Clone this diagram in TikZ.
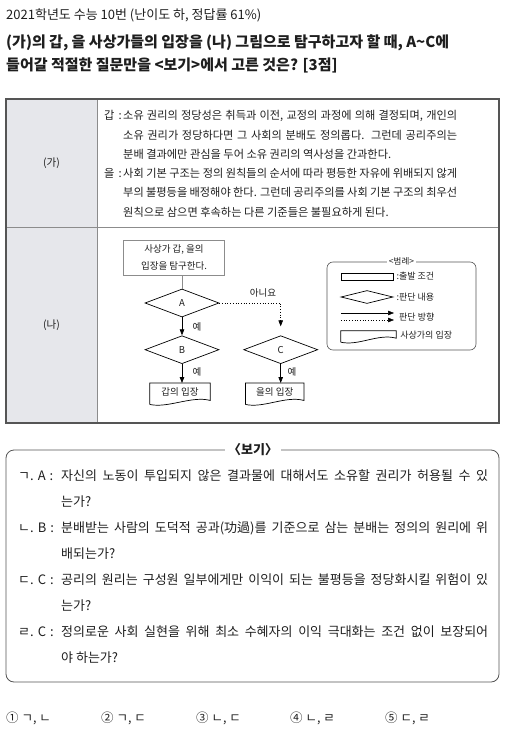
\documentclass[tikz,border=0pt]{standalone}
\usepackage{fontspec}
\setmainfont{Noto Sans CJK KR}
\usetikzlibrary{positioning,shapes.geometric,arrows.meta}
\definecolor{ink}{HTML}{1E1E1E}
\definecolor{cellgray}{HTML}{E6E7EB}
\definecolor{frame}{HTML}{555555}
\definecolor{rule}{HTML}{8C8C8C}
\newcommand{\tpre}[1]{\makebox[19pt][l]{#1}}
\newcommand{\bpre}[1]{\makebox[43pt][l]{#1}}
\newcommand{\gap}{\hspace{4pt}}

\begin{document}
\begin{tikzpicture}[x=1pt, y=-1pt, every node/.style={text=ink, inner sep=0pt},
		t/.style={anchor=base west},
		body/.style={t, font=\fontsize{11.2}{12}\selectfont},
		bogi/.style={t, font=\fontsize{13}{14}\selectfont},
		fc/.style={font=\fontsize{9.5}{17}\selectfont},
		lg/.style={font=\fontsize{9}{11}\selectfont, anchor=west},
		sbox/.style={draw=rule, line width=0.7pt, minimum width=101pt, minimum height=35pt, align=center, fc},
		dia/.style={diamond, draw, line width=0.7pt, minimum width=74pt, minimum height=28pt, fc},
		doc/.style={minimum width=60pt, minimum height=18pt, fc},
		yesarrow/.style={-{Triangle[length=6pt,width=4.5pt]}, line width=0.7pt},
		noarrow/.style={yesarrow, dotted}]
	\useasboundingbox (0,0) rectangle (507,733);

	% question
	\node[t, font=\fontsize{13}{15}\selectfont] (hdr) at (6,19.5) {2021학년도 수능 10번 (난이도 하, 정답률 61\%)};
	\node[t, font=\fontsize{15}{17}\selectfont\bfseries] (q1) at (6,48) {(가)의 갑, 을 사상가들의 입장을 (나) 그림으로 탐구하고자 할 때, A\textasciitilde C에};
	\node[t, font=\fontsize{15}{17}\selectfont\bfseries] (q2) at (6,71) {들어갈 적절한 질문만을 <보기>에서 고른 것은? [3점]};

	% table
	\fill[cellgray] (6,99) rectangle (97,423);
	\draw[rule, line width=0.6pt] (97,99) -- (97,423);
	\draw[rule, line width=0.6pt] (6,227) -- (499,227);
	\draw[frame, line width=1.6pt] (6,99) rectangle (499,423);
	\node[font=\fontsize{10.5}{12}\selectfont] (ga) at (51.5,163) {(가)};
	\node[font=\fontsize{10.5}{12}\selectfont] (na) at (51.5,325) {(나)};

	\node[body] (g1) at (104,120) {\tpre{갑\gap:}\makebox[334pt][s]{소유 권리의 정당성은 취득과 이전, 교정의 과정에 의해 결정되며, 개인의}};
	\node[body] (g2) at (104,139.2) {\tpre{}\makebox[334pt][s]{소유 권리가 정당하다면 그 사회의 분배도 정의롭다. 그런데 공리주의는}};
	\node[body] (g3) at (104,158.4) {\tpre{}분배 결과에만 관심을 두어 소유 권리의 역사성을 간과한다.};
	\node[body] (e1) at (104,177.6) {\tpre{을\gap:}\makebox[334pt][s]{사회 기본 구조는 정의 원칙들의 순서에 따라 평등한 자유에 위배되지 않게}};
	\node[body] (e2) at (104,196.8) {\tpre{}\makebox[334pt][s]{부의 불평등을 배정해야 한다. 그런데 공리주의를 사회 기본 구조의 최우선}};
	\node[body] (e3) at (104,216) {\tpre{}원칙으로 삼으면 후속하는 다른 기준들은 불필요하게 된다.};

	% flow chart
	\node[sbox] (start) at (174,257.5) {사상가 갑, 을의\\입장을 탐구한다.};
	\node[dia] (A) at (182,303) {A};
	\node[dia, below=18pt of A] (B) {B};
	\node[dia, right=24pt of B] (C) {C};
	\node[doc, below=19pt of B, xshift=-2pt] (gapdoc) {갑의 입장};
	\node[doc, below=19pt of C, xshift=-6pt, minimum width=58pt] (euldoc) {을의 입장};

	\draw[rule, line width=0.7pt] (A) -- (A |- start.south);
	\draw[yesarrow] (A) -- (B);
	\draw[yesarrow] (B) -- (B |- gapdoc.north);
	\draw[yesarrow] (C) -- (C |- euldoc.north);
	\draw[noarrow, shorten >=9pt] (A) -| (C);
	\node[fc] (yA) at (197,327) {예};
	\node[fc] (yB) at (197,372) {예};
	\node[fc] (yC) at (292,372) {예};
	\node[fc] (nA) at (263,293) {아니요};

	% legend
	\node[draw=frame, line width=0.6pt, rounded corners=6pt, minimum width=149pt, minimum height=88pt] (legend) at (401.5,306) {};
	\node[fill=white, inner xsep=2pt, font=\fontsize{8.5}{10}\selectfont] (legtitle) at (legend.north) {<범례>};
	\node[draw, line width=0.7pt, minimum width=52pt, minimum height=7pt] (lrect) at (367,276.5) {};
	\node[lg, right=3pt of lrect] (lrectlab) {:출발 조건};
	\node[diamond, draw, line width=0.7pt, aspect=4, minimum width=52pt, minimum height=13pt] (ldia) at (367,297) {};
	\node[lg, right=3pt of ldia] (ldialab) {:판단 내용};
	\coordinate (ls1) at (341,313);
	\coordinate (le1) at (394,313);
	\coordinate (ls2) at (341,320);
	\coordinate (le2) at (394,320);
	\draw[yesarrow, line width=0.5pt] (ls1) -- (le1);
	\draw[noarrow, line width=0.5pt] (ls2) -- (le2);
	\node[lg] (larrlab) at (399,317) {판단 방향};
	\node[minimum width=55pt, minimum height=8pt] (legdoc) at (368.5,335) {};
	\node[lg, right=4pt of legdoc] (ldoclab) {사상가의 입장};

	\foreach \d in {gapdoc, euldoc, legdoc}
		\draw[line width=0.7pt] ([shift={(0,3)}]\d.south west) -- (\d.north west) -- (\d.north east) -- ([shift={(0,-1)}]\d.south east)
			.. controls ([shift={(-18,-6)}]\d.south east) and ([shift={(18,7)}]\d.south west) .. ([shift={(0,3)}]\d.south west);

	% bogi
	\draw[frame, line width=0.8pt, rounded corners=8pt] (6,450) rectangle (499,682);
	\node[fill=white, inner xsep=3pt, font=\fontsize{13}{15}\selectfont\bfseries] (bogititle) at (253,450) {〈보기〉};
	\node[bogi] (k1) at (18,480.5) {\bpre{ㄱ.\gap A\gap:}\makebox[427pt][s]{자신의 노동이 투입되지 않은 결과물에 대해서도 소유할 권리가 허용될 수 있}};
	\node[bogi] (k2) at (18,506.5) {\bpre{}는가?};
	\node[bogi] (n1) at (18,532.5) {\bpre{ㄴ.\gap B\gap:}\makebox[427pt][s]{분배받는 사람의 도덕적 공과(功過)를 기준으로 삼는 분배는 정의의 원리에 위}};
	\node[bogi] (n2) at (18,558.5) {\bpre{}배되는가?};
	\node[bogi] (d1) at (18,584.5) {\bpre{ㄷ.\gap C\gap:}\makebox[427pt][s]{공리의 원리는 구성원 일부에게만 이익이 되는 불평등을 정당화시킬 위험이 있}};
	\node[bogi] (d2) at (18,610.5) {\bpre{}는가?};
	\node[bogi] (r1) at (18,636.5) {\bpre{ㄹ.\gap C\gap:}\makebox[427pt][s]{정의로운 사회 실현을 위해 최소 수혜자의 이익 극대화는 조건 없이 보장되어}};
	\node[bogi] (r2) at (18,662.5) {\bpre{}야 하는가?};

	% choices
	\foreach \x/\c [count=\i] in {6/{① ㄱ, ㄴ}, 101/{② ㄱ, ㄷ}, 196/{③ ㄴ, ㄷ}, 290/{④ ㄴ, ㄹ}, 385/{⑤ ㄷ, ㄹ}}
		\node[t, font=\fontsize{12.5}{14}\selectfont] (ch\i) at (\x,722) {\c};
\end{tikzpicture}
\end{document}
